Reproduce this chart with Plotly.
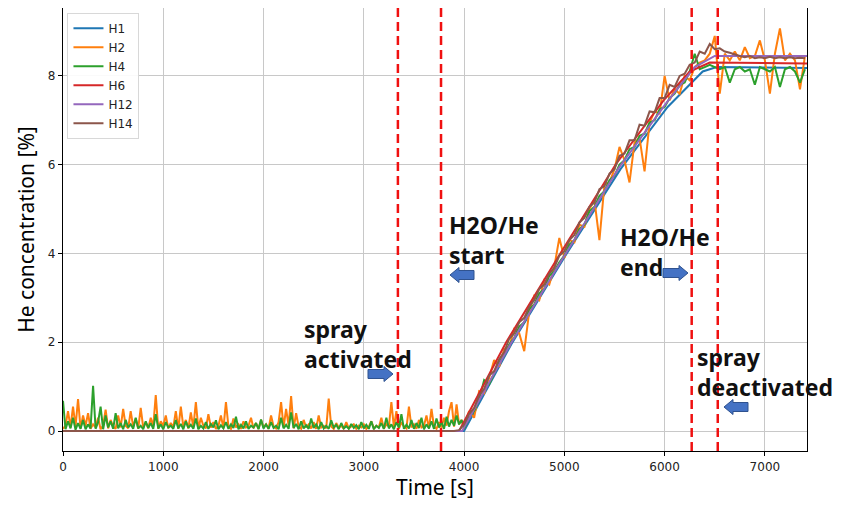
import plotly.graph_objects as go

# ---------------- data ----------------
BASE_STEP = 25    # sampling interval of baseline part [s]
RAMP_START = 4000
RAMP_STEP = 50    # sampling interval of ramp / plateau part [s]

H2_BASE = [
    0.05, 0.12, 0.45, 0.08, 0.55, 0.10, 0.72, 0.06, 0.35, 0.12,
    0.40, 0.05, 0.15, 0.08, 0.30, 0.04, 0.12, 0.48, 0.06, 0.25,
    0.10, 0.05, 0.35, 0.08, 0.50, 0.12, 0.06, 0.45, 0.10, 0.28,
    0.05, 0.52, 0.08, 0.20, 0.06, 0.30, 0.10, 0.81, 0.05, 0.22,
    0.12, 0.35, 0.06, 0.18, 0.08, 0.45, 0.05, 0.55, 0.10, 0.25,
    0.06, 0.42, 0.08, 0.65, 0.05, 0.30, 0.12, 0.06, 0.38, 0.08,
    0.20, 0.05, 0.12, 0.35, 0.06, 0.65, 0.10, 0.05, 0.28, 0.08,
    0.15, 0.05, 0.22, 0.08, 0.12, 0.30, 0.06, 0.18, 0.05, 0.25,
    0.08, 0.15, 0.05, 0.35, 0.10, 0.06, 0.20, 0.65, 0.08, 0.50,
    0.12, 0.79, 0.06, 0.40, 0.10, 0.05, 0.25, 0.08, 0.15, 0.06,
    0.20, 0.05, 0.35, 0.08, 0.12, 0.06, 0.73, 0.10, 0.05, 0.18,
    0.08, 0.12, 0.05, 0.20, 0.06, 0.10, 0.15, 0.05, 0.12, 0.08,
    0.15, 0.05, 0.10, 0.22, 0.06, 0.12, 0.08, 0.30, 0.05, 0.15,
    0.10, 0.65, 0.08, 0.45, 0.05, 0.20, 0.10, 0.06, 0.55, 0.08,
    0.15, 0.05, 0.25, 0.08, 0.12, 0.35, 0.06, 0.50, 0.10, 0.05,
    0.20, 0.08, 0.30, 0.12, 0.45, 0.65, 0.10, 0.60, 0.15, 0.25,
]
H2_RAMP = [
    0.10, 0.45, 0.30, 0.90, 0.85, 1.20, 1.60, 1.45, 1.85, 1.90,
    2.30, 2.20, 1.80, 2.70, 3.05, 2.95, 3.40, 3.30, 3.70, 4.35,
    3.90, 4.30, 4.25, 4.65, 4.60, 5.00, 5.20, 4.30, 5.55, 5.60,
    5.90, 6.40, 6.10, 5.60, 6.50, 6.60, 5.85, 6.95, 7.20, 7.15,
    8.00, 7.45, 7.70, 7.60, 8.00, 7.90, 8.20, 8.30, 8.35, 8.50,
    8.90, 7.60, 8.50, 8.35, 8.55, 8.35, 8.65, 8.40, 8.45, 8.80,
    8.35, 7.60, 8.50, 9.07, 8.35, 8.50, 8.35, 7.70, 8.45,
]

H4_BASE = [
    0.68, 0.04, 0.22, 0.06, 0.30, 0.03, 0.18, 0.05, 0.25, 0.04,
    0.15, 0.06, 1.02, 0.05, 0.20, 0.55, 0.04, 0.35, 0.08, 0.22,
    0.05, 0.40, 0.06, 0.18, 0.04, 0.25, 0.08, 0.15, 0.05, 0.30,
    0.06, 0.12, 0.04, 0.22, 0.07, 0.18, 0.05, 0.38, 0.06, 0.15,
    0.04, 0.20, 0.08, 0.12, 0.05, 0.25, 0.06, 0.16, 0.04, 0.22,
    0.07, 0.14, 0.05, 0.28, 0.04, 0.12, 0.06, 0.20, 0.05, 0.16,
    0.08, 0.24, 0.04, 0.13, 0.06, 0.20, 0.05, 0.15, 0.07, 0.32,
    0.04, 0.14, 0.06, 0.22, 0.05, 0.12, 0.08, 0.18, 0.04, 0.26,
    0.06, 0.15, 0.05, 0.20, 0.07, 0.12, 0.04, 0.30, 0.06, 0.14,
    0.05, 0.42, 0.07, 0.16, 0.04, 0.22, 0.06, 0.13, 0.05, 0.28,
    0.07, 0.15, 0.04, 0.20, 0.06, 0.12, 0.05, 0.24, 0.08, 0.14,
    0.04, 0.18, 0.06, 0.11, 0.05, 0.16, 0.07, 0.13, 0.04, 0.20,
    0.06, 0.14, 0.05, 0.22, 0.04, 0.12, 0.07, 0.18, 0.05, 0.30,
    0.06, 0.15, 0.04, 0.20, 0.08, 0.38, 0.05, 0.14, 0.06, 0.25,
    0.05, 0.18, 0.07, 0.30, 0.04, 0.15, 0.06, 0.22, 0.05, 0.28,
    0.08, 0.20, 0.05, 0.32, 0.10, 0.25, 0.12, 0.35, 0.15, 0.25,
]
H4_RAMP = [
    0.05, 0.30, 0.45, 0.70, 1.15, 1.05, 1.30, 1.55, 1.70, 1.95,
    2.10, 2.35, 2.45, 2.75, 2.85, 3.10, 3.20, 3.50, 3.60, 3.80,
    3.95, 4.20, 4.30, 4.55, 4.65, 4.95, 5.05, 5.30, 5.40, 5.65,
    5.75, 6.00, 6.10, 6.35, 6.40, 6.65, 6.70, 6.95, 7.00, 7.25,
    7.30, 7.50, 7.60, 7.80, 7.85, 8.10, 8.50, 8.15, 8.20, 8.25,
    8.20, 8.15, 8.20, 7.85, 8.15, 8.20, 8.10, 8.15, 7.80, 8.20,
    8.15, 8.10, 8.20, 7.75, 8.15, 8.20, 8.10, 7.85, 8.15,
]

H14_START = 3900
H14_VALUES = [
    0.00, 0.02, 0.15, 0.38, 0.52, 0.80, 0.95, 1.25, 1.35, 1.62,
    1.78, 2.08, 2.20, 2.45, 2.55, 2.80, 2.95, 3.20, 3.30, 3.55,
    3.68, 3.95, 4.05, 4.30, 4.42, 4.70, 4.80, 5.05, 5.15, 5.45,
    5.52, 5.80, 5.90, 6.20, 6.25, 6.55, 6.55, 6.90, 6.88, 7.20,
    7.18, 7.50, 7.50, 7.80, 7.75, 8.00, 8.05, 8.25, 8.30, 8.55,
    8.50, 8.72, 8.60, 8.62, 8.55, 8.52, 8.48, 8.45, 8.42, 8.45,
    8.40, 8.42, 8.40, 8.43, 8.40, 8.42, 8.40, 8.42, 8.40, 8.41,
    8.40,
]

H1_TIME = [0, 4000, 4470, 5010, 5560, 6030, 6380, 6520, 7420]
H1_VALUES = [0, 0, 1.95, 3.95, 5.90, 7.30, 8.10, 8.20, 8.18]

H6_TIME = [0, 3950, 4420, 4960, 5510, 5990, 6250, 6450, 7420]
H6_VALUES = [0, 0, 2.00, 4.00, 6.00, 7.45, 8.10, 8.30, 8.28]

H12_TIME = [0, 3980, 4460, 5000, 5550, 6020, 6300, 6500, 7420]
H12_VALUES = [0, 0, 1.95, 3.95, 5.95, 7.40, 8.20, 8.45, 8.45]

EVENT_TIMES = [3340, 3770, 6270, 6530]
EVENT_LABELS = ["spray<br>activated", "H2O/He<br>start", "H2O/He<br>end", "spray<br>deactivated"]

X_TICKS = [0, 1000, 2000, 3000, 4000, 5000, 6000, 7000]
Y_TICKS = [0, 2, 4, 6, 8]

# time axes of the sampled series
BASE_T = [i * BASE_STEP for i in range(len(H2_BASE))]
RAMP_T = [RAMP_START + i * RAMP_STEP for i in range(len(H2_RAMP))]
H2_TIME, H2_VALUES = BASE_T + RAMP_T, H2_BASE + H2_RAMP
H4_TIME, H4_VALUES = BASE_T + RAMP_T, H4_BASE + H4_RAMP
H14_TIME = [0] + [H14_START + i * RAMP_STEP for i in range(len(H14_VALUES))]
H14_ALL = [0] + H14_VALUES

COLORS = {
    "H1": "#1f77b4", "H2": "#ff7f0e", "H4": "#2ca02c",
    "H6": "#d62728", "H12": "#9467bd", "H14": "#8c564b",
}

series = [
    ("H1", H1_TIME, H1_VALUES),
    ("H2", H2_TIME, H2_VALUES),
    ("H4", H4_TIME, H4_VALUES),
    ("H6", H6_TIME, H6_VALUES),
    ("H12", H12_TIME, H12_VALUES),
    ("H14", H14_TIME, H14_ALL),
]

# ---------------- layout geometry ----------------
OFF = 8                      # default body margin of the page
W, H = 852 - OFF, 518 - OFF  # figure size
L, R, T, B = 63, 807, 8, 451  # plot area in page pixels


def paper(px, py):
    return (px - L) / (R - L), (B - py) / (B - T)


fig = go.Figure()
for name, t, v in series:
    fig.add_trace(go.Scatter(
        x=t, y=v, mode="lines", name=name,
        line=dict(color=COLORS[name], width=2),
    ))

# event lines
for et in EVENT_TIMES:
    fig.add_shape(type="line", xref="x", yref="paper", x0=et, x1=et, y0=0, y1=1,
                  line=dict(color="#f01010", width=2.5, dash="9px,5px"), layer="above")


def block_arrow(x0, x1, yc):
    """block arrow from x0 (tail) to x1 (tip), pixel coords -> paper path"""
    d = 1 if x1 > x0 else -1
    hl, sh, hh = 9, 4.5, 7.5
    pts = [(x0, yc - sh), (x1 - d * hl, yc - sh), (x1 - d * hl, yc - hh), (x1, yc),
           (x1 - d * hl, yc + hh), (x1 - d * hl, yc + sh), (x0, yc + sh)]
    pp = [paper(x, y) for x, y in pts]
    return "M " + " L ".join(f"{a:.5f},{b:.5f}" for a, b in pp) + " Z"


arrows = [(368, 393, 374), (474, 450, 275), (663, 688, 273), (748, 724, 407)]
for a in arrows:
    fig.add_shape(type="path", xref="paper", yref="paper", path=block_arrow(*a),
                  fillcolor="#4472c4", line=dict(color="#2f528f", width=1), layer="above")

label_pos = [(302, 311), (447, 207), (618, 219), (695, 339)]
for (px, py), lab in zip(label_pos, EVENT_LABELS):
    xp, yp = paper(px, py)
    fig.add_annotation(xref="paper", yref="paper", x=xp, y=yp, xanchor="left", yanchor="top",
                       text=f"<b>{lab}</b>", showarrow=False, align="left",
                       font=dict(family="Noto Sans", size=23, color="#111111"))

fig.update_layout(
    width=W, height=H,
    margin=dict(l=L - OFF, r=W - (R - OFF), t=T - OFF, b=H - (B - OFF)),
    plot_bgcolor="white", paper_bgcolor="white",
    font=dict(family="DejaVu Sans", size=12, color="#222222"),
    showlegend=True,
    legend=dict(x=0.006, y=0.989, xanchor="left", yanchor="top",
                bgcolor="rgba(255,255,255,0.9)", bordercolor="#d8d8d8", borderwidth=1,
                font=dict(family="DejaVu Sans", size=12, color="#222222"),
                tracegroupgap=0, itemwidth=30),
)
fig.update_xaxes(range=[0, 7420], tickvals=X_TICKS, showgrid=True, gridcolor="#c8c8c8", gridwidth=1,
                 showline=True, linecolor="black", linewidth=1.2, mirror=True, automargin=False,
                 ticks="outside", ticklen=4, tickcolor="black", zeroline=False,
                 title=dict(text="Time [s]", font=dict(family="Noto Sans", size=21, color="black"), standoff=7))
fig.update_yaxes(range=[-0.45, 9.53], tickvals=Y_TICKS, showgrid=True, gridcolor="#c8c8c8", gridwidth=1,
                 showline=True, linecolor="black", linewidth=1.2, mirror=True, automargin=False,
                 ticks="outside", ticklen=4, tickcolor="black", zeroline=False,
                 title=dict(text="He concentration [%]", font=dict(family="Noto Sans", size=21, color="black"), standoff=7))

fig.write_html("out.html")
